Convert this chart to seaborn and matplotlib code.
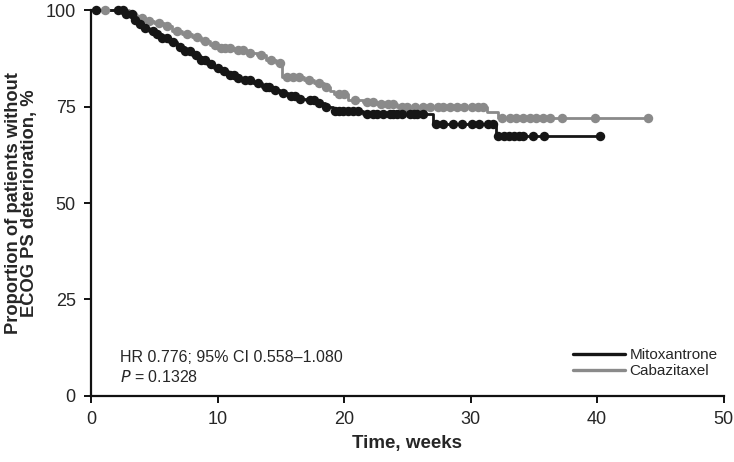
"""Kaplan-Meier style curve: time to ECOG PS deterioration, mitoxantrone vs cabazitaxel."""

import matplotlib
matplotlib.use("Agg")
import matplotlib.pyplot as plt
import numpy as np
import pandas as pd
import seaborn as sns

# ── Data ─────────────────────────────────────────────────────────────────
ARMS = ["Mitoxantrone", "Cabazitaxel"]
COLORS = {"Mitoxantrone": "#161616", "Cabazitaxel": "#8a8a8a"}

# step times (weeks) and survival level (%) after each step
mito_times = [0, 2.8, 3.3, 3.7, 4.1, 4.6, 5.0, 5.6, 6.2, 6.8, 7.4, 8.0, 8.6, 9.2,
              9.7, 10.2, 10.8, 11.4, 12.0, 12.8, 13.5, 14.2, 14.9, 15.6, 16.3,
              17.0, 17.8, 18.5, 19.1, 21.5, 27.0, 32.0]
mito_surv = [100, 99.0, 97.5, 96.5, 95.5, 94.5, 93.8, 92.8, 91.7, 90.4, 89.5,
             88.3, 87.0, 86.0, 85.0, 84.3, 83.3, 82.5, 81.8, 81.0, 80.0, 79.2,
             78.6, 77.8, 77.0, 76.6, 75.9, 74.9, 73.9, 73.0, 70.5, 67.3]
mito_censor = [0.4, 2.1, 2.5, 2.8, 3.2, 3.5, 3.9, 4.3, 4.9, 5.2, 5.6, 6.0, 6.5,
               7.0, 7.4, 7.8, 8.3, 8.7, 9.0, 9.5, 10.0, 10.5, 11.0, 11.3, 11.6,
               12.2, 12.6, 13.2, 13.8, 14.1, 14.5, 15.2, 15.8, 16.1, 16.5, 17.3,
               17.6, 18.0, 18.6, 19.3, 19.6, 19.9, 20.3, 20.7, 21.1, 21.8, 22.3,
               22.6, 23.1, 23.6, 23.9, 24.2, 24.6, 25.2, 25.5, 25.8, 26.2, 27.3,
               27.8, 28.6, 29.3, 30.1, 30.7, 31.4, 31.8, 32.2, 32.6, 33.0, 33.4,
               33.8, 34.1, 34.9, 35.8, 40.2]

caba_times = [0, 3.0, 3.6, 4.3, 5.0, 5.8, 6.4, 7.2, 8.0, 8.7, 9.4, 10.2, 11.2,
              12.3, 13.1, 13.8, 14.6, 15.1, 16.8, 17.6, 18.4, 18.9, 19.2, 20.3,
              21.5, 22.6, 24.2, 31.3, 32.2]
caba_surv = [100, 98.8, 97.9, 97.2, 96.6, 95.8, 94.5, 93.8, 93.0, 92.0, 91.0,
             90.2, 89.6, 89.0, 88.3, 87.0, 86.3, 82.7, 81.9, 81.1, 80.0, 79.0,
             78.2, 76.8, 76.2, 75.8, 74.8, 73.6, 72.0]
caba_censor = [1.1, 3.3, 4.0, 4.6, 5.4, 6.0, 6.8, 7.6, 8.4, 9.0, 9.8, 10.3, 10.6,
               11.0, 11.6, 12.0, 12.6, 13.4, 14.2, 14.9, 15.5, 16.0, 16.4, 17.2,
               18.0, 18.6, 19.6, 20.0, 20.9, 21.8, 22.3, 22.9, 23.5, 23.9, 24.6,
               25.0, 25.6, 26.2, 26.8, 27.4, 27.8, 28.4, 28.9, 29.5, 30.1, 30.6,
               31.0, 32.5, 33.1, 33.6, 34.1, 34.7, 35.2, 35.7, 36.3, 37.2, 39.8,
               44.0]

x_ticks = [0, 10, 20, 30, 40, 50]
y_ticks = [0, 25, 50, 75, 100]

HR_TEXT = "HR 0.776; 95% CI 0.558\u20131.080"
P_TEXT = r"$\it{P}$ = 0.1328"


def build_frames():
    """Long-form frames for the step curves and censor marks."""
    curves, marks = [], []
    raw = {
        "Mitoxantrone": (mito_times, mito_surv, mito_censor),
        "Cabazitaxel": (caba_times, caba_surv, caba_censor),
    }
    for arm, (t, s, c) in raw.items():
        t = np.asarray(t, float)
        s = np.asarray(s, float)
        c = np.asarray(c, float)
        # extend the last level to the last follow-up
        t_ext = np.append(t, c.max())
        s_ext = np.append(s, s[-1])
        curves.append(pd.DataFrame({"time": t_ext, "surv": s_ext, "arm": arm}))
        idx = np.searchsorted(t, c, side="right") - 1
        marks.append(pd.DataFrame({"time": c, "surv": s[idx], "arm": arm}))
    return pd.concat(curves, ignore_index=True), pd.concat(marks, ignore_index=True)


def main():
    sns.set_style("ticks")
    plt.rcParams["font.family"] = ["Liberation Sans", "DejaVu Sans"]

    curves, marks = build_frames()

    fig = plt.figure(figsize=(7.34, 4.62), dpi=100)
    ax = fig.add_axes([0.124, 0.143, 0.862, 0.835])

    # gray first so the black arm sits on top
    for arm in ["Cabazitaxel", "Mitoxantrone"]:
        cdf = curves[curves["arm"] == arm]
        mdf = marks[marks["arm"] == arm]
        sns.lineplot(data=cdf, x="time", y="surv", drawstyle="steps-post",
                     estimator=None, sort=False, color=COLORS[arm], lw=2.0,
                     ax=ax, label=arm, clip_on=False)
        ax.plot(mdf["time"], mdf["surv"], "o", ms=6.8, color=COLORS[arm],
                mec="none", clip_on=False, zorder=3)

    ax.set_xlim(0, 50)
    ax.set_ylim(0, 100)
    ax.set_xticks(x_ticks)
    ax.set_yticks(y_ticks)
    ax.tick_params(axis="both", labelsize=13, length=5, width=1.4,
                   direction="out", color="#111111", pad=6)
    for side in ["left", "bottom"]:
        ax.spines[side].set_linewidth(1.6)
        ax.spines[side].set_color("#111111")
    sns.despine(ax=ax)

    ax.set_xlabel("Time, weeks", fontsize=13.5, fontweight="bold")
    ax.set_ylabel("Proportion of patients without\nECOG PS deterioration, %",
                  fontsize=13.2, fontweight="bold", linespacing=0.95)
    ax.xaxis.set_label_coords(0.5, -0.1)
    ax.yaxis.set_label_coords(-0.084, 0.5)

    ax.text(2.3, 10.0, HR_TEXT, fontsize=11.5, va="center", ha="left")
    ax.text(2.3, 4.9, P_TEXT, fontsize=11.5, va="center", ha="left")

    handles, labels = ax.get_legend_handles_labels()
    order = [labels.index(a) for a in ARMS]
    leg = ax.legend([handles[i] for i in order], [labels[i] for i in order],
                    loc="lower right", bbox_to_anchor=(1.0, 0.03), frameon=False,
                    fontsize=11, handlelength=3.4, handletextpad=0.3,
                    labelspacing=0.15, borderaxespad=0.0)
    for line in leg.get_lines():
        line.set_linewidth(2.4)

    fig.savefig("out.png", dpi=100)
    plt.close(fig)


if __name__ == "__main__":
    main()
